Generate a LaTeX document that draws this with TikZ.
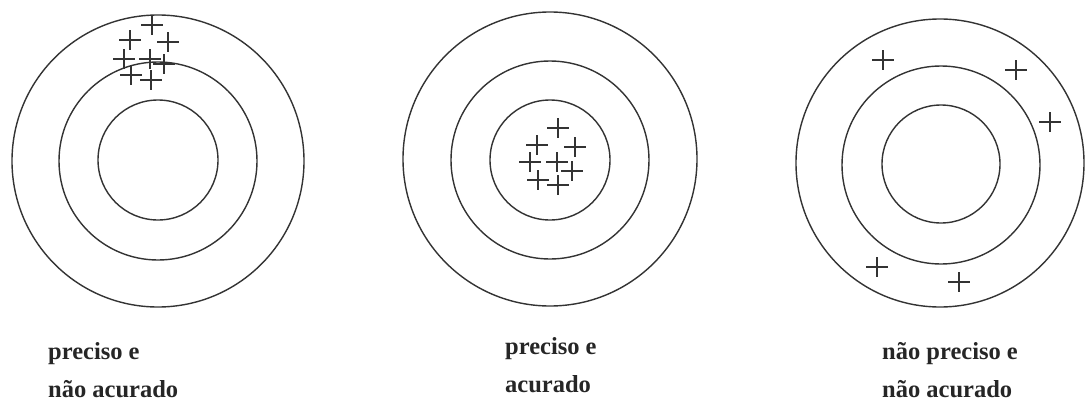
\documentclass[tikz,border=0pt]{standalone}
\usepackage{fontspec}
\setmainfont{Liberation Serif}
\begin{document}
\begin{tikzpicture}[x=1pt,y=-1pt,
  ring/.style={draw=black!80,line width=1.4pt},
  lbl/.style={anchor=base west,inner sep=0pt,font=\fontsize{24.5}{28}\selectfont\bfseries,text=black!85},
  plusmark/.pic={\draw[black!80,line width=1.4pt] (-11,0)--(11,0) (0,-10)--(0,10);}]
\useasboundingbox[fill=white] (0,0) rectangle (1085,407);
% target 1
\draw[ring] (158,161) circle[radius=146];
\draw[ring] (158,161) circle[radius=99];
\draw[ring] (158,160) circle[radius=60];
\foreach \p in {(152,25),(130,40),(168,42),(124,59),(150,59),(164,64),(131,75),(151,80)}
  \pic at \p {plusmark};
% target 2
\draw[ring] (550,159) circle[radius=147];
\draw[ring] (550,160) circle[radius=99];
\draw[ring] (550,160) circle[radius=60];
\foreach \p in {(558,128),(537,145),(575,147),(530,162),(557,162),(572,171),(538,180),(558,185)}
  \pic at \p {plusmark};
% target 3
\draw[ring] (940,163) circle[radius=144];
\draw[ring] (941,165) circle[radius=99];
\draw[ring] (941,164) circle[radius=59];
\foreach \p in {(883,60),(1016,70),(1050,122),(877,267),(959,282)}
  \pic at \p {plusmark};
% labels
\node[lbl] (l1a) at (48,359) {preciso e};
\node[lbl] (l1b) at (48,397) {não acurado};
\node[lbl] (l2a) at (505,354) {preciso e};
\node[lbl] (l2b) at (505,392) {acurado};
\node[lbl] (l3a) at (882,359) {não preciso e};
\node[lbl] (l3b) at (882,397) {não acurado};
\end{tikzpicture}
\end{document}
